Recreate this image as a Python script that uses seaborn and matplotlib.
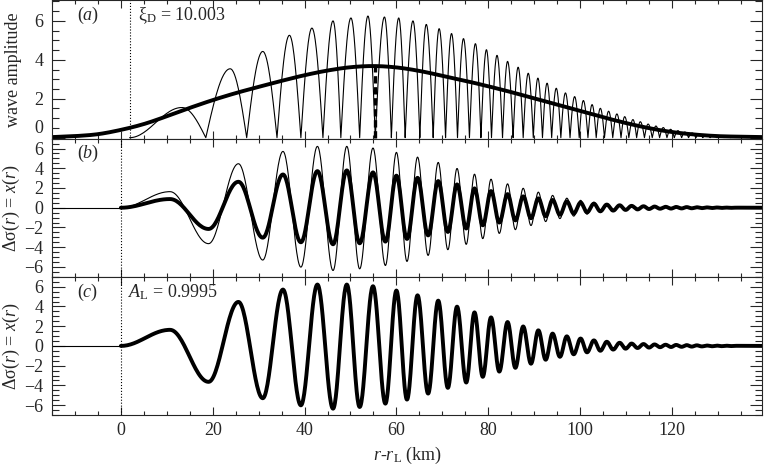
import numpy as np
import seaborn as sns
import matplotlib.pyplot as plt
from matplotlib.ticker import MultipleLocator

# ---- panel (a): smooth envelope (thick), read every 5 km
env_x = [-15, -10, -5, 0, 5, 10, 15, 20, 25, 30, 35, 40, 45, 50, 55, 60, 65, 70,
         75, 80, 85, 90, 95, 100, 105, 110, 115, 120, 125, 130, 135, 140]
env_y = [0.03, 0.08, 0.18, 0.40, 0.70, 1.10, 1.53, 1.93, 2.29, 2.61, 2.92, 3.21,
         3.45, 3.62, 3.68, 3.61, 3.43, 3.18, 2.92, 2.64, 2.34, 2.02, 1.70, 1.37,
         1.05, 0.75, 0.49, 0.29, 0.16, 0.08, 0.05, 0.03]

# ---- panel (a): thin curve, zeros and lobe peaks
lobe_zero_x = [1.9, 18.5, 27.4, 34.0, 39.2, 44.0, 47.9, 52.0, 55.4, 58.9, 61.9, 65.1,
               68.0, 70.7, 73.3, 75.9, 78.4, 80.7, 83.1, 85.4, 87.6, 89.8, 91.8, 93.8,
               95.8, 97.8, 99.8, 101.7, 103.5, 105.3, 107.1, 108.9, 110.6, 112.3, 114.0,
               115.7, 117.3, 118.9, 120.5, 122.1, 123.6, 125.2, 126.7, 128.3, 129.8,
               131.3, 132.8]
lobe_peak_x = [13.3, 23.8, 30.9, 36.7, 41.6, 46.2, 50.1, 53.8, 57.4, 60.5, 63.6, 66.5,
               69.3, 72.0, 74.6, 77.2, 79.6, 81.9, 84.2, 86.5, 88.7, 90.8, 92.8, 94.8,
               96.8, 98.8, 100.7, 102.6, 104.4, 106.2, 108.0, 109.7, 111.5, 113.1, 114.8,
               116.5, 118.1, 119.7, 121.3, 122.8, 124.4, 125.9, 127.5, 129.0, 130.5, 132.0]
lobe_peak_y = [1.55, 3.54, 4.43, 5.26, 5.63, 6.00, 6.15, 6.25, 6.20, 6.15, 6.00, 5.82,
               5.60, 5.35, 5.09, 4.83, 4.52, 4.23, 3.92, 3.62, 3.31, 3.06, 2.80, 2.54,
               2.30, 2.11, 1.91, 1.70, 1.51, 1.36, 1.22, 1.08, 0.93, 0.82, 0.70, 0.60,
               0.52, 0.43, 0.36, 0.29, 0.24, 0.19, 0.15, 0.12, 0.09, 0.07]

dash_x = 55.3
dash_top = 3.68
start_a = 1.9

# ---- panels (b) and (c): extrema of the wave
ext_x = [0, 10.7, 19.1, 25.6, 30.9, 35.3, 39.2, 42.8, 46.2, 49.2, 52.0, 54.9, 57.6,
         60.0, 62.3, 64.6, 66.9, 69.1, 71.2, 73.2, 75.2, 77.0, 78.8, 80.6, 82.4, 84.2,
         85.9, 87.6, 89.3, 90.9, 92.5, 94.0, 95.6, 97.1, 98.6, 100.1, 101.5, 103.0,
         104.4, 105.8, 107.2, 108.6, 109.9, 111.2, 112.5, 113.8, 115.0, 116.2, 117.4,
         118.6, 119.8, 120.9, 122.1, 123.2, 124.3, 125.4, 126.5, 127.6, 128.7, 129.8,
         130.8, 131.9, 132.9, 134.0, 140.0]
wave_c = [0, 1.63, -3.64, 4.46, -5.30, 5.71, -6.02, 6.22, -6.36, 6.22, -6.19, 6.05,
          -5.85, 5.61, -5.44, 5.13, -4.83, 4.59, -4.25, 3.98, -3.71, 3.40, -3.13, 2.89,
          -2.60, 2.42, -2.22, 1.97, -1.80, 1.58, -1.40, 1.25, -1.10, 0.97, -0.85, 0.75,
          -0.65, 0.56, -0.49, 0.42, -0.37, 0.32, -0.28, 0.24, -0.21, 0.19, -0.17, 0.15,
          -0.13, 0.12, -0.11, 0.10, -0.09, 0.08, -0.07, 0.06, -0.05, 0.04, -0.035, 0.03,
          -0.025, 0.02, -0.015, 0.01, 0]
wave_b = [0, 0.88, -2.15, 2.63, -3.03, 3.37, -3.50, 3.71, -3.70, 3.78, -3.60, 3.58,
          -3.43, 3.25, -3.16, 3.03, -2.80, 2.70, -2.45, 2.36, -2.10, 1.96, -1.78, 1.69,
          -1.50, 1.38, -1.28, 1.15, -1.06, 0.95, -0.86, 0.79, -0.71, 0.64, -0.58, 0.52,
          -0.46, 0.41, -0.36, 0.32, -0.29, 0.25, -0.22, 0.19, -0.17, 0.15, -0.13, 0.12,
          -0.10, 0.095, -0.085, 0.08, -0.07, 0.065, -0.055, 0.05, -0.04, 0.035, -0.03,
          0.025, -0.02, 0.015, -0.012, 0.008, 0]


def catmull(xk, yk, n=20):
    xk = np.asarray(xk, float)
    yk = np.asarray(yk, float)
    xp = np.r_[2 * xk[0] - xk[1], xk, 2 * xk[-1] - xk[-2]]
    yp = np.r_[2 * yk[0] - yk[1], yk, 2 * yk[-1] - yk[-2]]
    t = np.linspace(0, 1, n, endpoint=False)
    xs, ys = [], []
    for i in range(1, len(xp) - 2):
        for arr, p in ((xs, xp), (ys, yp)):
            p0, p1, p2, p3 = p[i - 1:i + 3]
            arr.append(0.5 * (2 * p1 + (p2 - p0) * t + (2 * p0 - 5 * p1 + 4 * p2 - p3) * t ** 2
                              + (3 * p1 - p0 - 3 * p2 + p3) * t ** 3))
    xs.append([xk[-1]])
    ys.append([yk[-1]])
    return np.concatenate(xs), np.concatenate(ys)


def lobes(zx, px, py, n=30):
    t = np.linspace(0, 1, n, endpoint=False)
    xs, ys = [], []
    for i in range(len(px)):
        xs.append(zx[i] + (px[i] - zx[i]) * t)
        if i == 0:
            ys.append(py[i] * (1 - np.cos(np.pi * t)) / 2)
        else:
            ys.append(py[i] * np.sin(np.pi / 2 * t))
        xs.append(px[i] + (zx[i + 1] - px[i]) * t)
        ys.append(py[i] * np.cos(np.pi / 2 * t))
    xs.append([zx[-1]])
    ys.append([0.0])
    return np.concatenate(xs), np.concatenate(ys)


def waves(xk, yk, n=30):
    t = np.linspace(0, 1, n, endpoint=False)
    xs, ys = [], []
    for i in range(len(xk) - 1):
        xs.append(xk[i] + (xk[i + 1] - xk[i]) * t)
        ys.append(yk[i] + (yk[i + 1] - yk[i]) * (1 - np.cos(np.pi * t)) / 2)
    xs.append([xk[-1]])
    ys.append([yk[-1]])
    return np.concatenate(xs), np.concatenate(ys)


sns.set_style('ticks')
plt.rcParams['font.family'] = ['Liberation Serif', 'DejaVu Serif']
plt.rcParams['mathtext.fontset'] = 'custom'
plt.rcParams['mathtext.rm'] = 'Liberation Serif'
plt.rcParams['mathtext.it'] = 'Liberation Serif:italic'
plt.rcParams['mathtext.bf'] = 'Liberation Serif:bold'
plt.rcParams['font.size'] = 13

fig, axes = plt.subplots(3, 1, sharex=True, figsize=(7.64, 4.70), dpi=100)
fig.subplots_adjust(left=0.068, right=0.998, bottom=0.117, top=0.999, hspace=0)
ax_a, ax_b, ax_c = axes

thin, thick = 0.8, 2.8

# (a)
ex, ey = catmull(env_x, env_y)
lx, ly = lobes(lobe_zero_x, lobe_peak_x, lobe_peak_y)
sns.lineplot(x=lx, y=ly, ax=ax_a, color='k', lw=thin, estimator=None, sort=False)
sns.lineplot(x=ex, y=ey, ax=ax_a, color='k', lw=thick, estimator=None, sort=False)
ax_a.plot([dash_x, dash_x], [0, dash_top], color='k', lw=2.4, dashes=(2.2, 1.1))
ax_a.axvline(start_a, color='k', lw=0.8, ls=':')
ax_a.set_ylim(-0.05, 7.05)
ax_a.set_yticks([0, 2, 4, 6])
ax_a.set_yticklabels(['', '2', '4', '6'])
ax_a.annotate('0', xy=(0, 0), xycoords=('axes fraction', 'data'), xytext=(-6, 6.5),
              textcoords='offset points', ha='right', va='center', fontsize=13)
ax_a.set_ylabel('wave amplitude')
ax_a.text(0.035, 0.89, '($a$)', transform=ax_a.transAxes, va='center', ha='left')
ax_a.text(0.121, 0.89, r'ξ$_{\rm D}$ = 10.003', transform=ax_a.transAxes,
          va='center', ha='left')

# (b) and (c)
wx, wc = waves(ext_x, wave_c)
_, wb = waves(ext_x, wave_b)
for ax in (ax_b, ax_c):
    sns.lineplot(x=[-15, 0], y=[0, 0], ax=ax, color='k', lw=thin, estimator=None)
    ax.axvline(0, color='k', lw=0.8, ls=':')
    ax.set_ylim(-7, 7)
    ax.set_ylabel(r'Δσ($r$) = $x$($r$)')
sns.lineplot(x=wx, y=wc, ax=ax_b, color='k', lw=thin, estimator=None, sort=False)
sns.lineplot(x=wx, y=wb, ax=ax_b, color='k', lw=thick, estimator=None, sort=False)
sns.lineplot(x=wx, y=wc, ax=ax_c, color='k', lw=thick, estimator=None, sort=False)
ax_b.text(0.035, 0.89, '($b$)', transform=ax_b.transAxes, va='center', ha='left')
ax_c.text(0.035, 0.89, '($c$)', transform=ax_c.transAxes, va='center', ha='left')
ax_c.text(0.107, 0.89, r'$A_{\rm L}$ = 0.9995', transform=ax_c.transAxes,
          va='center', ha='left')

for ax in axes:
    ax.set_xlim(-15, 139.7)
    ax.xaxis.set_major_locator(MultipleLocator(20))
    ax.xaxis.set_minor_locator(MultipleLocator(5))
    if ax is not ax_a:
        ax.yaxis.set_major_locator(MultipleLocator(2))
    ax.yaxis.set_minor_locator(MultipleLocator(0.5))
    ax.tick_params(axis='both', which='both', direction='in', top=True, right=True,
                   width=0.8, labelsize=13)
    ax.tick_params(axis='y', which='major', length=9, pad=6)
    ax.tick_params(axis='y', which='minor', length=5)
    ax.tick_params(axis='x', which='major', length=6, pad=5)
    ax.tick_params(axis='x', which='minor', length=3.2)
    ax.yaxis.set_label_coords(-0.042, 0.5)
    for s in ax.spines.values():
        s.set_linewidth(0.8)

ax_c.set_xlabel(r'$r$-$r_{\rm L}$ (km)', labelpad=4)

plt.savefig('out.png', dpi=100)
